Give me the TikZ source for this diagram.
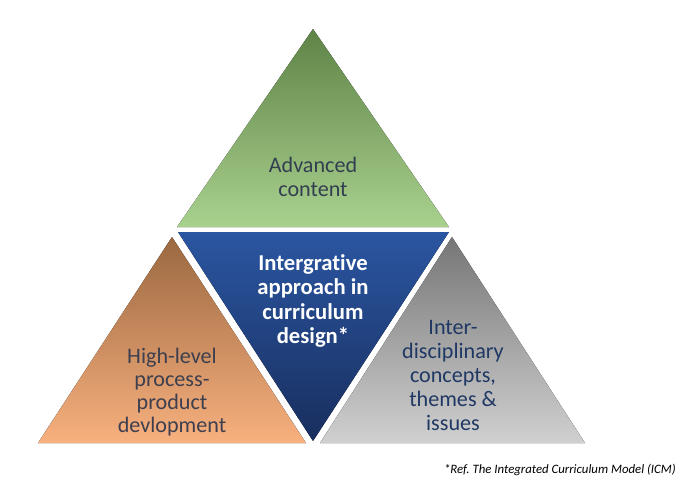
\documentclass[tikz,border=0pt]{standalone}
\usepackage{fontspec}
\setmainfont[Ligatures=NoCommon]{Carlito}
\usepackage{tikz}

\definecolor{grtop}{HTML}{5E8347}
\definecolor{grbot}{HTML}{A9D18E}
\definecolor{bltop}{HTML}{2B56A1}
\definecolor{blbot}{HTML}{182E5E}
\definecolor{brtop}{HTML}{9A6840}
\definecolor{brbot}{HTML}{F8B07E}
\definecolor{gytop}{HTML}{767676}
\definecolor{gybot}{HTML}{D0D0D0}
\definecolor{txslate}{HTML}{333F50}
\definecolor{txnavy}{HTML}{1F3864}
\definecolor{txgrey}{HTML}{3D3F4F}

\frenchspacing
\begin{document}
\begin{tikzpicture}[x=0.75pt, y=-0.75pt,
	lbl/.style={align=center, font=\fontsize{16.6}{18}\selectfont, inner sep=0pt},
	tri/.style={draw=none}]
					\useasboundingbox (0,0) rectangle (682,494);
					
					% the four triangles
					\fill[tri, top color=grtop, bottom color=grbot] (313,29) -- (449,227) -- (177,227) -- cycle;
					\fill[tri, top color=bltop, bottom color=blbot] (178,232) -- (449,232) -- (313,441) -- cycle;
					\fill[tri, top color=brtop, bottom color=brbot] (172,237) -- (306,443) -- (38,443) -- cycle;
					\fill[tri, top color=gytop, bottom color=gybot] (452,237) -- (585,443) -- (320,443) -- cycle;
					
					\node[lbl, text=txslate] (adv) at (313,177) {Advanced\\content};
					\node[lbl, text=white, font=\fontsize{17}{18.4}\bfseries] (icm) at (313,301) {Intergrative\\approach in\\curriculum\\design*};
					\node[lbl, text=txgrey, font=\fontsize{16.6}{17.4}\selectfont] (hlp) at (172,392) {High-level\\process-\\product\\devlopment};
					\node[lbl, text=txnavy] (idc) at (453,375) {Inter-\\disciplinary\\concepts,\\themes \&\\issues};
					
					\node[anchor=east, inner sep=0pt, font=\fontsize{9.6}{11}\itshape] (ref) at (676,470) {*Ref. The Integrated Curriculum Model (ICM)};
				\end{tikzpicture}
\end{document}
